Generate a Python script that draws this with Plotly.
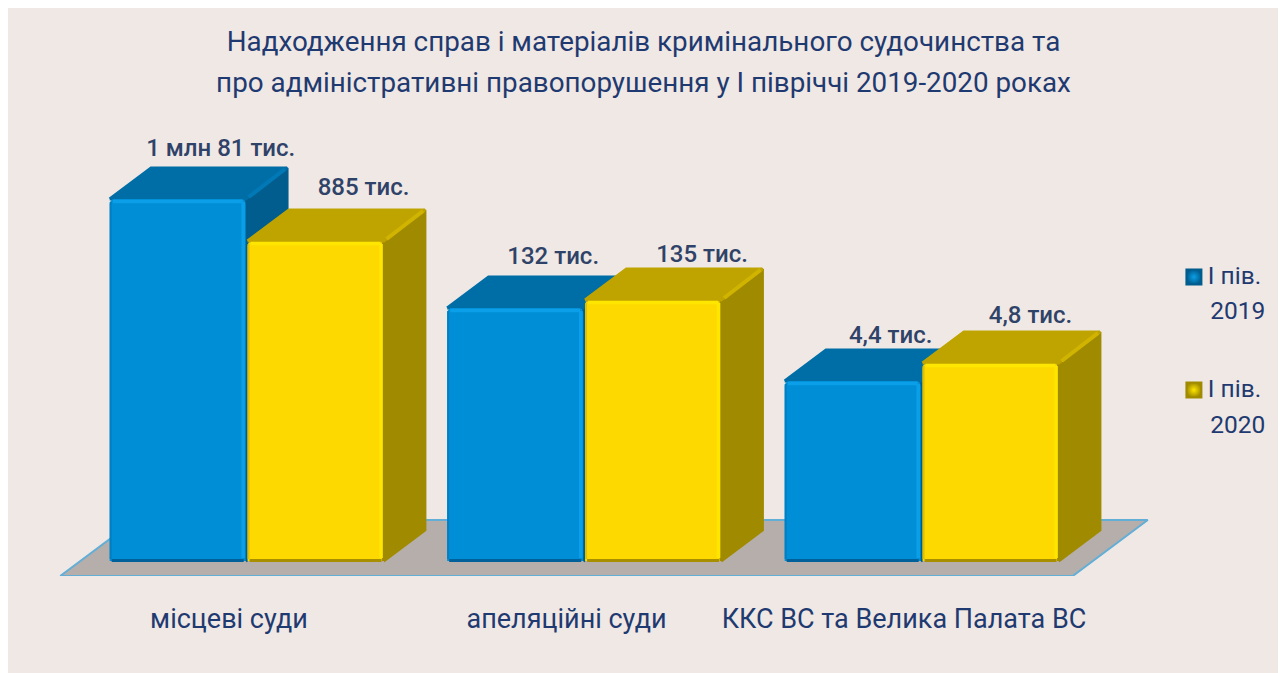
import plotly.graph_objects as go

# ---- data ----
categories = ["місцеві суди", "апеляційні суди", "ККС ВС та Велика Палата ВС"]
series_names = ["І пів.<br>\u200a2019", "І пів.<br>\u200a2020"]
# drawn bar heights (the original chart's axis is not linear in the labelled numbers)
heights_2019 = [362, 253, 180]
heights_2020 = [320, 261, 198]
labels_2019 = ["1 млн 81 тис.", "132 тис.", "4,4 тис."]
labels_2020 = ["885 тис.", "135 тис.", "4,8 тис."]
title_lines = ["Надходження справ і матеріалів кримінального судочинства та",
               "про адміністративні правопорушення у І півріччі 2019-2020 роках"]

# ---- styling / layout constants ----
W, H = 1271, 665
BG = "#efe8e5"
TXT = "#1f3a70"
LBL = "#2f4268"
FONT = "Roboto"
BAR_W = 0.403
SHIFT_A, SHIFT_B = -0.152, 0.2565
DX, DY = 0.1225, 31           # oblique depth of the 3-D boxes
PX = 1 / 337.5                # x data units per pixel
LBL_DX_A = [43, 38, 38]
LBL_DX_B = [48, 49, 40]
LBL_DY_A = [49, 50, 44]
LBL_DY_B = [52, 44, 46]

X_RANGE = [-0.6548, 3.1111]
Y_RANGE = [-15, 553]
SWATCH_X = 2.859
SWATCH_Y = [284, 171]


def boxes(heights, shift):
    top_x, top_y, side_x, side_y, ridge_x, ridge_y = [], [], [], [], [], []
    for i, h in enumerate(heights):
        l, r = i + shift - BAR_W / 2, i + shift + BAR_W / 2
        top_x += [l, l + DX, r + DX, r, l, None]
        top_y += [h, h + DY, h + DY, h, h, None]
        side_x += [r, r + DX, r + DX, r, r, None]
        side_y += [0, DY, h + DY, h, 0, None]
        ridge_x += [r + 3 * PX, r + DX - 2 * PX, None]
        ridge_y += [h + 2, h + DY - 1, None]
    return top_x, top_y, side_x, side_y, ridge_x, ridge_y


def poly(x, y, color, xa="x", ya="y"):
    return go.Scatter(x=x, y=y, mode="lines", fill="toself", fillcolor=color,
                      line=dict(color=color, width=3), hoverinfo="skip",
                      showlegend=False, xaxis=xa, yaxis=ya)


def stroke(x, y, color, width, xa="x2", ya="y2"):
    return go.Scatter(x=x, y=y, mode="lines", line=dict(color=color, width=width),
                      hoverinfo="skip", showlegend=False, xaxis=xa, yaxis=ya)


def bevels(heights, shift, light, dark, edge):
    tx, ty, rx, ry, bx, by, lx, ly = [], [], [], [], [], [], [], []
    for i, h in enumerate(heights):
        l, r = i + shift - BAR_W / 2, i + shift + BAR_W / 2
        tx += [l + 3 * PX, r - 3 * PX, None]
        ty += [h - 2.5, h - 2.5, None]
        rx += [r - 2.5 * PX, r - 2.5 * PX, None]
        ry += [3, h - 3, None]
        bx += [l + 2 * PX, r - 2 * PX, None]
        by += [0.5, 0.5, None]
        lx += [l + 1 * PX, l + 1 * PX, None]
        ly += [2, h - 3, None]
    return [stroke(lx, ly, edge, 2), stroke(rx, ry, light, 3.5),
            stroke(tx, ty, light, 3.5), stroke(bx, by, dark, 3)]


fig = go.Figure()

# floor
floor_x = [-0.5, 2.5, 2.5 + 75 * PX, -0.5 + 75 * PX, -0.5]
floor_y = [-15, -15, 41, 41, -15]
fig.add_trace(go.Scatter(x=floor_x, y=floor_y, mode="lines", fill="toself",
                         fillcolor="#b5aeab", line=dict(color="#62aed6", width=2),
                         hoverinfo="skip", showlegend=False))

# blue box depth (under the overlaid layer)
tx, ty, sx, sy, rx, ry = boxes(heights_2019, SHIFT_A)
fig.add_trace(poly(sx, sy, "#005d8e"))
fig.add_trace(poly(tx, ty, "#006ea6"))
fig.add_trace(stroke(rx, ry, "#0079b6", 4, "x", "y"))

# fronts
cats_a = [i + SHIFT_A for i in range(3)]
cats_b = [i + SHIFT_B for i in range(3)]
fig.add_trace(go.Bar(x=cats_a, y=heights_2019, width=BAR_W, xaxis="x2", yaxis="y2",
                     marker=dict(color="#008ed6", cornerradius=5, line=dict(width=0)),
                     showlegend=False, name="І пів. 2019"))
fig.add_trace(go.Bar(x=cats_b, y=heights_2020, width=BAR_W, xaxis="x2", yaxis="y2",
                     marker=dict(color="#fdd900", cornerradius=5, line=dict(width=0)),
                     showlegend=False, name="І пів. 2020"))

# yellow box depth (over the blue side faces)
tx, ty, sx, sy, rx, ry = boxes(heights_2020, SHIFT_B)
fig.add_trace(poly(sx, sy, "#a08b00", "x2", "y2"))
fig.add_trace(poly(tx, ty, "#bfa400", "x2", "y2"))
fig.add_trace(stroke(rx, ry, "#d0b400", 4))

for t in bevels(heights_2019, SHIFT_A, "#0a9fe8", "#00619a", "#007fc2"):
    fig.add_trace(t)
for t in bevels(heights_2020, SHIFT_B, "#ffe600", "#a88f00", "#e0c000"):
    fig.add_trace(t)

# data labels
for cats, vals, labs, ox, oy in [(cats_a, heights_2019, labels_2019, LBL_DX_A, LBL_DY_A),
                                 (cats_b, heights_2020, labels_2020, LBL_DX_B, LBL_DY_B)]:
    fig.add_trace(go.Scatter(
        x=[c + d * PX for c, d in zip(cats, ox)],
        y=[v + d for v, d in zip(vals, oy)],
        mode="text", text=labs, textposition="middle center",
        textfont=dict(family=FONT, size=24, color=LBL, weight=500),
        hoverinfo="skip", showlegend=False, xaxis="x2", yaxis="y2"))

# legend entries: text in the legend, swatches beside it
for name, col, dark, sy_ in [(series_names[0], "#0a9fe8", "#005d8e", SWATCH_Y[0]),
                             (series_names[1], "#ffe600", "#a08b00", SWATCH_Y[1])]:
    fig.add_trace(go.Scatter(x=[None], y=[None], mode="markers", legendgroup=name,
                             name=f'<span style="font-size:24.5px">{name}</span>',
                             marker=dict(symbol="square", size=14, color="rgba(0,0,0,0)")))
    fig.add_trace(go.Scatter(x=[SWATCH_X], y=[sy_], mode="markers", xaxis="x2", yaxis="y2",
                             hoverinfo="skip", showlegend=False,
                             marker=dict(symbol="square", size=15, color=dark,
                                         gradient=dict(type="radial", color=col),
                                         line=dict(color=dark, width=2))))

axis_common = dict(showgrid=False, zeroline=False, showline=False)
fig.update_layout(
    width=W, height=H, autosize=False,
    paper_bgcolor=BG, plot_bgcolor="rgba(0,0,0,0)",
    margin=dict(l=0, r=0, t=0, b=97),
    barmode="overlay",
    font=dict(family=FONT, color=TXT),
    title=dict(
        text=f'<span style="font-size:27.8px">{title_lines[0]}<br>{title_lines[1]}</span>',
        font=dict(family=FONT, size=31.5, color=TXT),
        x=0.5, xanchor="center", y=0.936, yanchor="middle"),
    xaxis=dict(range=X_RANGE, tickmode="array", tickvals=[0, 1, 2], ticktext=categories,
               ticks="outside", ticklen=19, tickcolor="rgba(0,0,0,0)",
               tickfont=dict(family=FONT, size=27, color=TXT), **axis_common),
    yaxis=dict(range=Y_RANGE, visible=False, **axis_common),
    xaxis2=dict(range=X_RANGE, overlaying="x", visible=False, **axis_common),
    yaxis2=dict(range=Y_RANGE, overlaying="y", visible=False, **axis_common),
    legend=dict(x=0.9125, y=0.5765, xanchor="left", yanchor="top", bgcolor="rgba(0,0,0,0)",
                tracegroupgap=39, itemwidth=30, itemsizing="trace",
                font=dict(family=FONT, size=27.5, color=TXT)),
)

fig.write_html("out.html")
